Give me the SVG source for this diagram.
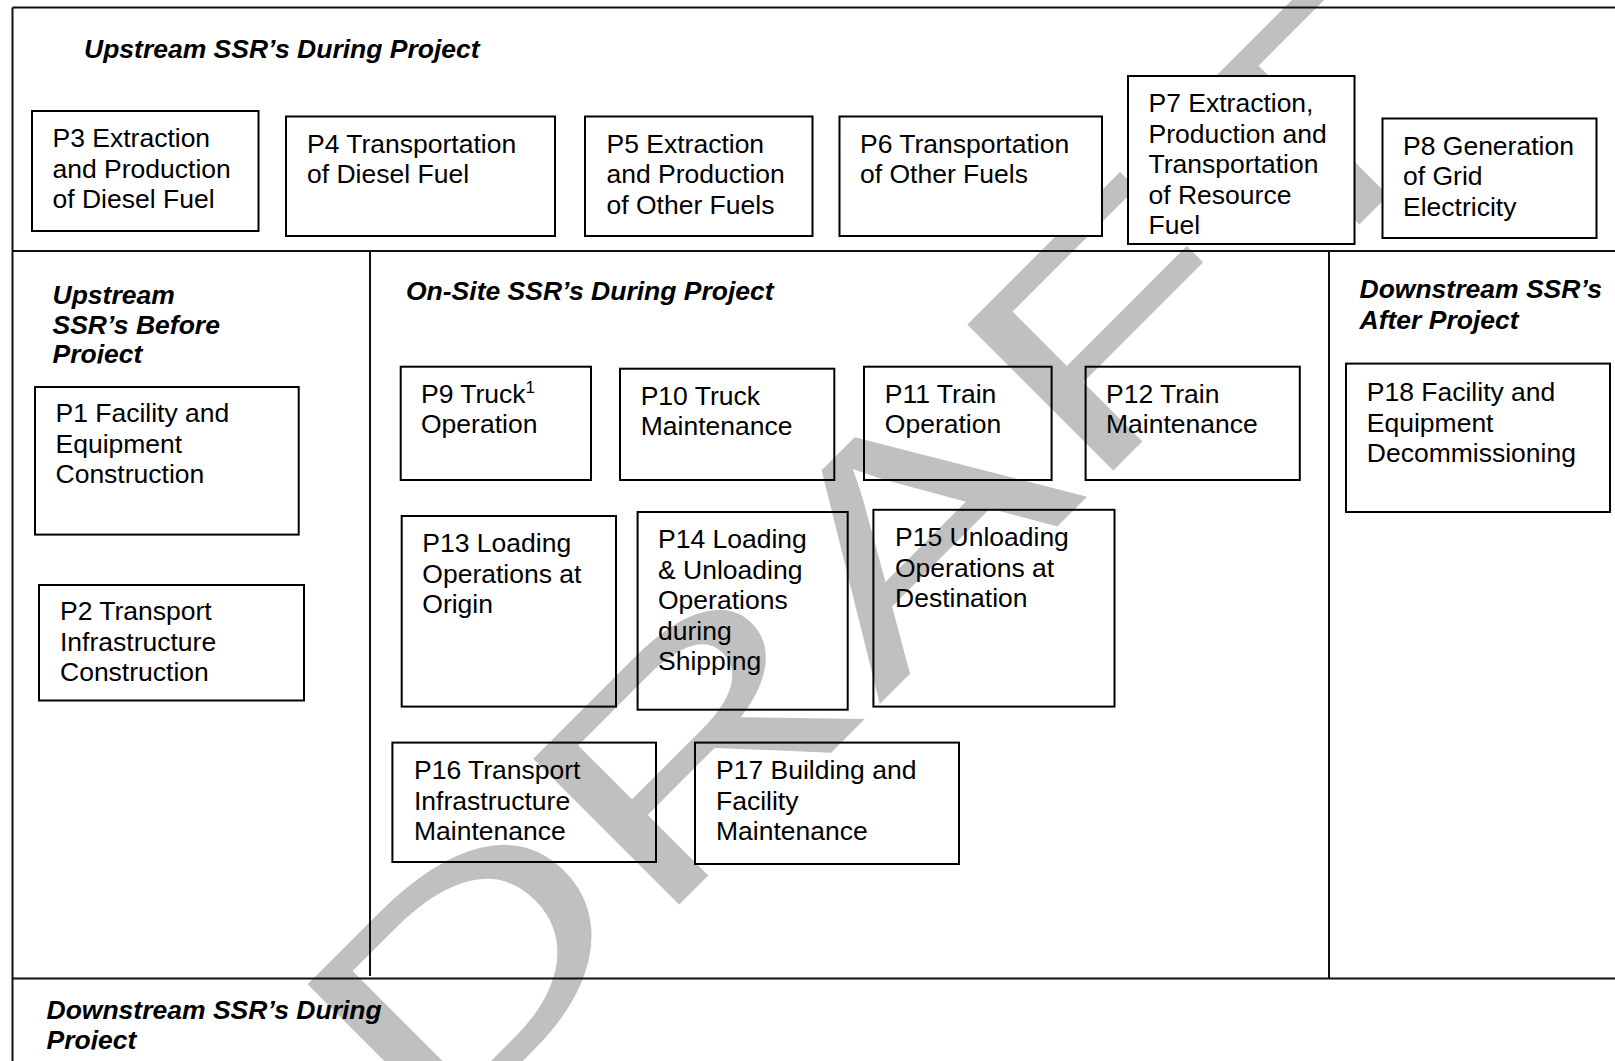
<svg xmlns="http://www.w3.org/2000/svg" width="1615" height="1061" viewBox="0 0 1615 1061">
<style>
.box{fill:none;stroke:#000;stroke-width:2}
.opaque{fill:#fff}
.t{font-family:"Liberation Sans",Arial,sans-serif;font-size:26.5px;fill:#000}
.h{font-family:"Liberation Sans",Arial,sans-serif;font-size:26.5px;font-weight:bold;font-style:italic;fill:#000}
.ln{stroke:#111;stroke-width:2;fill:none}
.wm{font-family:"Liberation Sans",Arial,sans-serif;font-size:300px;fill:#c0c0c0}
</style>
<defs>
<clipPath id="clipA"><rect x="40" y="330" width="250" height="33.5"/></clipPath>
<clipPath id="clipB"><rect x="40" y="1022" width="250" height="27.5"/></clipPath>
</defs>
<rect x="0" y="0" width="1615" height="1061" fill="#fff"/>
<g id="watermark">
<text class="wm" transform="translate(427.9,1155.9) rotate(-45) scale(1.473,1)">DRAFT</text>
</g>
<g id="frame">
<line class="ln" x1="12.5" y1="7.5" x2="1615" y2="7.5"/>
<line class="ln" x1="12.5" y1="7.5" x2="12.5" y2="1061"/>
<line class="ln" x1="12.5" y1="251" x2="1615" y2="251"/>
<line class="ln" x1="12.5" y1="978.5" x2="1615" y2="978.5"/>
<line class="ln" x1="370" y1="251" x2="370" y2="976"/>
<line class="ln" x1="1329" y1="251" x2="1329" y2="978.5"/>
</g>
<g id="connectors"></g>
<g id="label-upstream-during"><text class="h" x="84" y="58">Upstream SSR’s During Project</text></g>
<g id="label-upstream-before"><text class="h"><tspan x="52.5" y="304">Upstream</tspan><tspan x="52.5" y="333.5">SSR’s Before</tspan></text><text class="h" x="52.5" y="363" clip-path="url(#clipA)">Project</text></g>
<g id="label-onsite"><text class="h" x="406" y="300">On-Site SSR’s During Project</text></g>
<g id="label-downstream-after"><text class="h"><tspan x="1359.5" y="298">Downstream SSR’s</tspan><tspan x="1359.5" y="328.5">After Project</tspan></text></g>
<g id="label-downstream-during"><text class="h" x="46.5" y="1019">Downstream SSR’s During</text><text class="h" x="46.5" y="1049" clip-path="url(#clipB)">Project</text></g>

<g id="P3"><rect class="box opaque" x="32" y="111" width="226.5" height="120"/><text class="t"><tspan x="52.5" y="147">P3 Extraction</tspan><tspan x="52.5" y="177.6">and Production</tspan><tspan x="52.5" y="208.2">of Diesel Fuel</tspan></text></g>
<g id="P4"><rect class="box opaque" x="286" y="116.5" width="269" height="119.5"/><text class="t"><tspan x="307" y="152.7">P4 Transportation</tspan><tspan x="307" y="183.3">of Diesel Fuel</tspan></text></g>
<g id="P5"><rect class="box opaque" x="585" y="116.5" width="227.5" height="119.5"/><text class="t"><tspan x="606.5" y="152.7">P5 Extraction</tspan><tspan x="606.5" y="183.3">and Production</tspan><tspan x="606.5" y="213.9">of Other Fuels</tspan></text></g>
<g id="P6"><rect class="box opaque" x="839.5" y="116.5" width="262.5" height="119.5"/><text class="t"><tspan x="860" y="152.7">P6 Transportation</tspan><tspan x="860" y="183.3">of Other Fuels</tspan></text></g>
<g id="P7"><rect class="box opaque" x="1128" y="76" width="226.5" height="168"/><text class="t"><tspan x="1148.5" y="112">P7 Extraction,</tspan><tspan x="1148.5" y="142.6">Production and</tspan><tspan x="1148.5" y="173.2">Transportation</tspan><tspan x="1148.5" y="203.8">of Resource</tspan><tspan x="1148.5" y="234.4">Fuel</tspan></text></g>
<g id="P8"><rect class="box opaque" x="1382.5" y="118.5" width="214" height="119.5"/><text class="t"><tspan x="1403" y="154.7">P8 Generation</tspan><tspan x="1403" y="185.3">of Grid</tspan><tspan x="1403" y="215.9">Electricity</tspan></text></g>

<g id="P1"><rect class="box" x="35" y="387" width="263.7" height="147.6"/><text class="t"><tspan x="55.5" y="422">P1 Facility and</tspan><tspan x="55.5" y="452.6">Equipment</tspan><tspan x="55.5" y="483.2">Construction</tspan></text></g>
<g id="P2"><rect class="box" x="39" y="585" width="265" height="115.5"/><text class="t"><tspan x="60" y="620">P2 Transport</tspan><tspan x="60" y="650.6">Infrastructure</tspan><tspan x="60" y="681.2">Construction</tspan></text></g>

<g id="P9"><rect class="box" x="400.7" y="366.7" width="190.3" height="113.3"/><text class="t"><tspan x="421" y="402.5">P9 Truck</tspan><tspan font-size="17" dy="-10">1</tspan><tspan x="421" y="433.1">Operation</tspan></text></g>
<g id="P10"><rect class="box" x="620" y="368.7" width="214.3" height="111.3"/><text class="t"><tspan x="640.7" y="404.5">P10 Truck</tspan><tspan x="640.7" y="435.1">Maintenance</tspan></text></g>
<g id="P11"><rect class="box" x="864" y="366.7" width="187.6" height="113.3"/><text class="t"><tspan x="884.8" y="402.5">P11 Train</tspan><tspan x="884.8" y="433.1">Operation</tspan></text></g>
<g id="P12"><rect class="box" x="1085.6" y="366.7" width="214.2" height="113.3"/><text class="t"><tspan x="1106" y="402.5">P12 Train</tspan><tspan x="1106" y="433.1">Maintenance</tspan></text></g>
<g id="P13"><rect class="box" x="401.7" y="516" width="214.3" height="190.6"/><text class="t"><tspan x="422.3" y="552">P13 Loading</tspan><tspan x="422.3" y="582.6">Operations at</tspan><tspan x="422.3" y="613.2">Origin</tspan></text></g>
<g id="P14"><rect class="box" x="637.6" y="512" width="210.1" height="197.7"/><text class="t"><tspan x="658" y="548">P14 Loading</tspan><tspan x="658" y="578.6">&amp; Unloading</tspan><tspan x="658" y="609.2">Operations</tspan><tspan x="658" y="639.8">during</tspan><tspan x="658" y="670.4">Shipping</tspan></text></g>
<g id="P15"><rect class="box" x="873.4" y="509.8" width="241.1" height="196.8"/><text class="t"><tspan x="895" y="546">P15 Unloading</tspan><tspan x="895" y="576.6">Operations at</tspan><tspan x="895" y="607.2">Destination</tspan></text></g>
<g id="P16"><rect class="box" x="392.4" y="742.6" width="263.6" height="119.4"/><text class="t"><tspan x="414" y="779">P16 Transport</tspan><tspan x="414" y="809.6">Infrastructure</tspan><tspan x="414" y="840.2">Maintenance</tspan></text></g>
<g id="P17"><rect class="box" x="695" y="742.6" width="264" height="121.4"/><text class="t"><tspan x="716" y="779">P17 Building and</tspan><tspan x="716" y="809.6">Facility</tspan><tspan x="716" y="840.2">Maintenance</tspan></text></g>
<g id="P18"><rect class="box" x="1346" y="363.6" width="264" height="148.4"/><text class="t"><tspan x="1366.8" y="401">P18 Facility and</tspan><tspan x="1366.8" y="431.6">Equipment</tspan><tspan x="1366.8" y="462.2">Decommissioning</tspan></text></g>
</svg>
